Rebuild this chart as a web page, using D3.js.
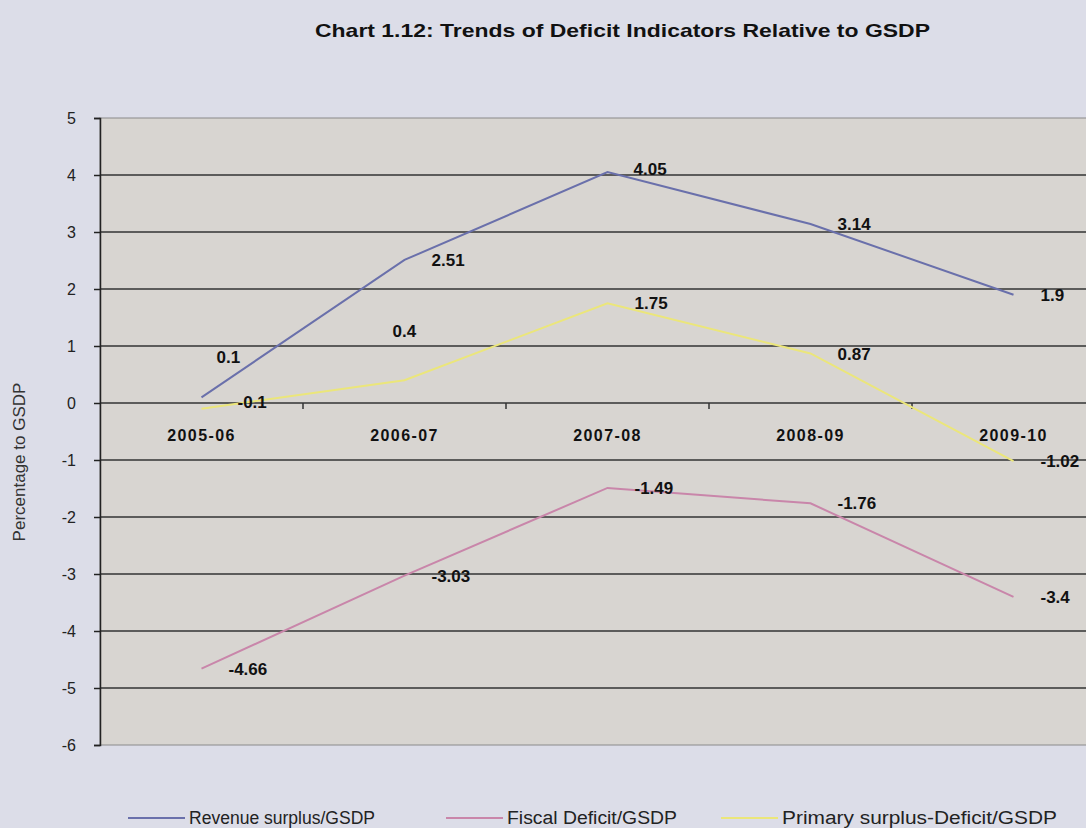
<!DOCTYPE html>
<html>
<head>
<meta charset="utf-8">
<script src="https://cdn.jsdelivr.net/npm/d3@7.9.0/dist/d3.min.js"></script>
<style>
  html, body { margin: 0; padding: 0; background: #dcdde8; }
  svg { display: block; font-family: "Liberation Sans", Arial, sans-serif; }
</style>
</head>
<body>
<svg id="chart" width="1086" height="828"></svg>
<script>
// chart values
const years = ["2005-06", "2006-07", "2007-08", "2008-09", "2009-10"];
const revenueSurplus = [0.1, 2.51, 4.05, 3.14, 1.9];
const fiscalDeficit = [-4.66, -3.03, -1.49, -1.76, -3.4];
const primarySurplus = [-0.1, 0.4, 1.75, 0.87, -1.02];
const yTicks = [5, 4, 3, 2, 1, 0, -1, -2, -3, -4, -5, -6];

const series = [
  { name: "Revenue surplus/GSDP", values: revenueSurplus, color: "#6a70ab" },
  { name: "Fiscal Deficit/GSDP", values: fiscalDeficit, color: "#c986aa" },
  { name: "Primary surplus-Deficit/GSDP", values: primarySurplus, color: "#ebe67a" }
];

// label nudges that differ from the usual "right of point" placement
const labelShift = {
  "Revenue surplus/GSDP": { 0: [15, -40], 2: [26, -3] },
  "Primary surplus-Deficit/GSDP": { 0: [36, -7], 1: [-12, -49] }
};

const svg = d3.select("#chart");
const plotL = 100, plotR = 1115, plotT = 118, plotB = 745;

const x = d3.scaleBand().domain(years).range([plotL, plotR]);
const y = d3.scaleLinear().domain([-6, 5]).range([plotB, plotT]);

// title
svg.append("text")
  .attr("x", 315).attr("y", 37)
  .attr("textLength", 615).attr("lengthAdjust", "spacingAndGlyphs")
  .attr("font-size", 19).attr("font-weight", "bold").attr("fill", "#111")
  .text("Chart 1.12: Trends of Deficit Indicators Relative to GSDP");

// plot area
svg.append("rect")
  .attr("x", plotL).attr("y", plotT)
  .attr("width", plotR - plotL).attr("height", plotB - plotT)
  .attr("fill", "#d8d5d1").attr("stroke", "#8a8a8a");

// gridlines
svg.append("g").selectAll("line")
  .data(yTicks.filter(d => d > -6 && d < 5))
  .join("line")
  .attr("x1", plotL).attr("x2", plotR)
  .attr("y1", d => y(d)).attr("y2", d => y(d))
  .attr("stroke", "#333").attr("stroke-width", 1.6);

// y axis
const yAxis = svg.append("g")
  .attr("transform", `translate(${plotL},0)`)
  .call(d3.axisLeft(y).tickValues(yTicks).tickSize(6).tickPadding(18).tickFormat(d => String(d)));
yAxis.select(".domain").attr("stroke", "#222").attr("stroke-width", 1.5);
yAxis.selectAll(".tick line").attr("stroke", "#222").attr("stroke-width", 1.5);
yAxis.selectAll("text").attr("font-size", 16).attr("fill", "#222")
  .attr("font-family", "'Liberation Sans', Arial, sans-serif");

// category axis on the zero line
const xAxis = svg.append("g")
  .attr("transform", `translate(0,${y(0)})`)
  .call(d3.axisBottom(x).tickSize(0).tickPadding(27));
xAxis.select(".domain").remove();
xAxis.selectAll("text")
  .attr("font-size", 16).attr("font-weight", "bold").attr("fill", "#111")
  .attr("letter-spacing", 1.4)
  .attr("font-family", "'Liberation Sans', Arial, sans-serif");

// small tick marks between categories
svg.append("g").selectAll("line")
  .data(years.slice(1))
  .join("line")
  .attr("x1", d => x(d)).attr("x2", d => x(d))
  .attr("y1", y(0)).attr("y2", y(0) + 6)
  .attr("stroke", "#333").attr("stroke-width", 1.5);

// lines
const line = d3.line()
  .x((d, i) => x(years[i]) + x.bandwidth() / 2)
  .y(d => y(d));

svg.append("g").selectAll("path")
  .data(series)
  .join("path")
  .attr("d", s => line(s.values))
  .attr("fill", "none")
  .attr("stroke", s => s.color)
  .attr("stroke-width", 2);

// data labels
series.forEach(s => {
  const shifts = labelShift[s.name] || {};
  svg.append("g").selectAll("text")
    .data(s.values)
    .join("text")
    .attr("x", (d, i) => x(years[i]) + x.bandwidth() / 2 + (shifts[i] ? shifts[i][0] : 27))
    .attr("y", (d, i) => y(d) + (shifts[i] ? shifts[i][1] : 0))
    .attr("dy", "0.36em")
    .attr("font-size", 17).attr("font-weight", "bold").attr("fill", "#111")
    .text(d => d);
});

// y axis title
svg.append("text")
  .attr("transform", "translate(25,462) rotate(-90)")
  .attr("text-anchor", "middle")
  .attr("font-size", 17).attr("fill", "#333")
  .text("Percentage to GSDP");

// legend
const legendX = [128, 446, 721];
const legendW = [186, 170, 275];
const legend = svg.append("g").selectAll("g")
  .data(series)
  .join("g")
  .attr("transform", (s, i) => `translate(${legendX[i]},818)`);
legend.append("line")
  .attr("x1", 0).attr("x2", 57)
  .attr("stroke", s => s.color).attr("stroke-width", 2);
legend.append("text")
  .attr("x", 61).attr("dy", "0.36em")
  .attr("textLength", (s, i) => legendW[i]).attr("lengthAdjust", "spacingAndGlyphs")
  .attr("font-size", 18).attr("fill", "#222")
  .text(s => s.name);
</script>
</body>
</html>
